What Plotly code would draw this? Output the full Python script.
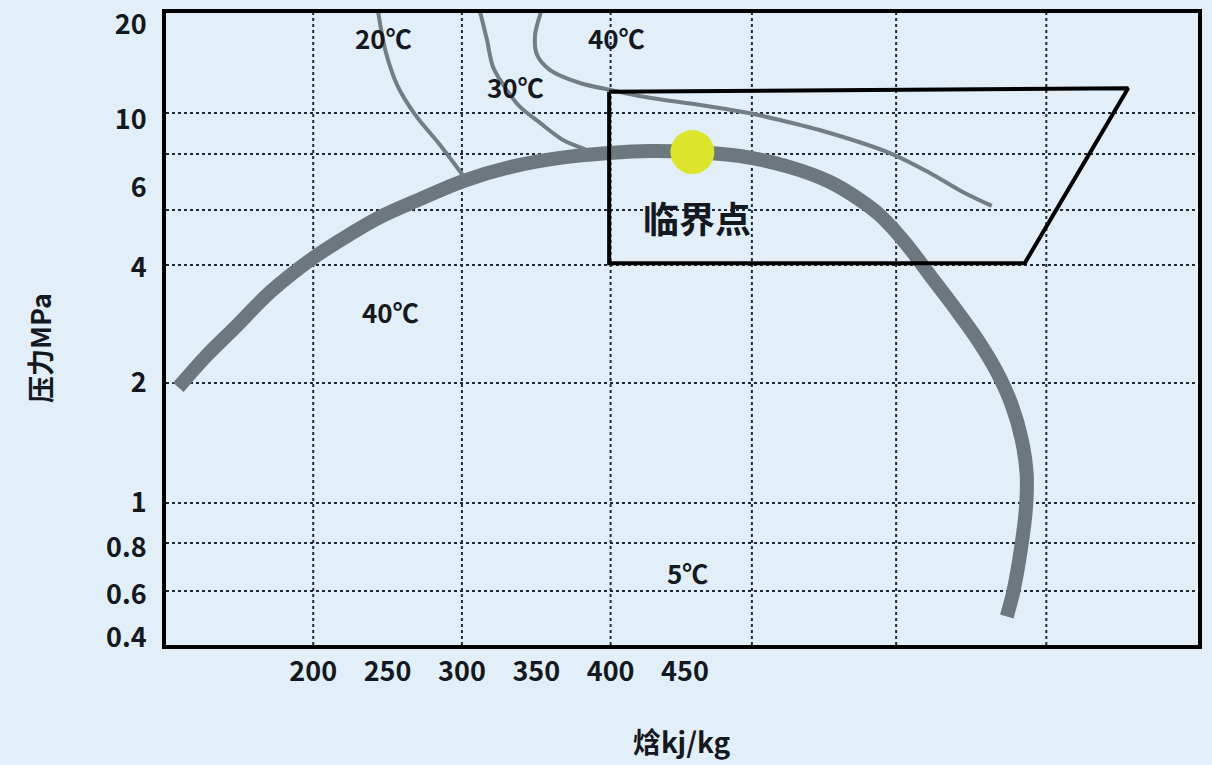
import numpy as np
import plotly.graph_objects as go

# ---------------- data ----------------
# pressure axis of the schematic is non-uniform: tick labels and where they sit on the axis
P_TICKS = [0.4, 0.6, 0.8, 1, 2, 4, 6, 10, 20]
P_TICK_LABELS = ["0.4", "0.6", "0.8", "1", "2", "4", "6", "10", "20"]
P_SCALE = [7, 50, 97, 142, 262, 377, 457, 525, 620]   # scale units of the axis

H_TICKS = [200, 250, 300, 350, 400, 450]

# saturation dome (enthalpy kJ/kg, pressure MPa)
dome_h = [109.3, 127.4, 147.6, 171.1, 200, 224.9, 245, 271.9, 300.8, 332.4, 366, 398.9,
          426.5, 454.7, 487, 520.6, 547.4, 567.6, 581, 597.8, 614.7, 631.5, 646.9, 659.7,
          669.8, 676.5, 679.8, 679.2, 675.8, 671.1, 666.4]
dome_p = [1.95, 2.34, 2.80, 3.46, 4.21, 4.75, 5.18, 5.67, 6.32, 7.02, 7.52, 7.80,
          7.92, 7.86, 7.63, 7.02, 6.28, 5.65, 5.23, 4.56, 3.83, 3.14, 2.59, 2.14,
          1.76, 1.44, 1.18, 0.966, 0.79, 0.62, 0.49]

# isotherms
iso20_h = [243.7, 248.4, 256.5, 268.5, 285.3, 302]
iso20_p = [22, 16.7, 12.9, 10.4, 8.29, 6.47]

iso30_h = [312.2, 316.9, 321, 330.4, 339.1, 352.6, 368, 382.8]
iso30_p = [22, 17.9, 14.7, 12.4, 11.0, 9.78, 8.61, 8.04]

iso40_h = [353.2, 349.2, 350.5, 359.3, 379.4, 401.6, 424.5, 468.8, 493.7, 513.8, 547.4,
           587.8, 614.7, 636.8, 656.3]
iso40_p = [22, 18.6, 16.1, 14.4, 13.1, 12.4, 11.8, 11.0, 10.5, 10.0, 9.07,
           7.80, 6.72, 5.88, 5.48]

# supercritical operating region (closed polygon)
box_h = [399, 748, 678.5, 399, 399]
box_p = [12.3, 12.6, 4.1, 4.1, 12.3]

# critical point
crit_h = [455]
crit_p = [7.86]

# labels
label_text = ["20℃", "40℃", "30℃", "40℃", "5℃"]
label_h = [247, 404, 336, 252, 452]
label_p = [18.2, 18.2, 12.8, 3.07, 0.69]
crit_label = "临界点"
crit_label_h = 458
crit_label_p = 5.18

# ---------------- scale ----------------
LP = np.log(np.array(P_TICKS, dtype=float))
US = np.array(P_SCALE, dtype=float)


def p_to_u(p):
    lp = np.log(np.asarray(p, dtype=float))
    u = np.interp(lp, LP, US)
    hi = lp > LP[-1]
    u[hi] = US[-1] + (lp[hi] - LP[-1]) * (US[-1] - US[-2]) / (LP[-1] - LP[-2])
    lo = lp < LP[0]
    u[lo] = US[0] + (lp[lo] - LP[0]) * (US[1] - US[0]) / (LP[1] - LP[0])
    return u


BG = "#e2eef8"
CURVE = "#6d787e"
INK = "#141820"
FONT = "Noto Sans CJK SC"

fig = go.Figure()

fig.add_trace(go.Scatter(x=dome_h, y=p_to_u(dome_p), mode="lines",
                         line=dict(color=CURVE, width=14, shape="spline", smoothing=1.0),
                         hoverinfo="skip"))
for hh, pp in [(iso20_h, iso20_p), (iso30_h, iso30_p), (iso40_h, iso40_p)]:
    fig.add_trace(go.Scatter(x=hh, y=p_to_u(pp), mode="lines",
                             line=dict(color="#737e84", width=4, shape="spline", smoothing=0.9),
                             hoverinfo="skip"))
fig.add_trace(go.Scatter(x=box_h, y=p_to_u(box_p), mode="lines",
                         line=dict(color="#000000", width=4), hoverinfo="skip"))
fig.add_trace(go.Scatter(x=crit_h, y=p_to_u(crit_p), mode="markers",
                         marker=dict(size=44, color="#dde42c", line=dict(width=0)),
                         hoverinfo="skip"))

# grid (dotted) lines
grid_h = [200, 300, 400, 495, 592, 693]
grid_u = [54, 102, 142, 262, 380, 435, 491, 532]
shapes = []
for g in grid_h:
    shapes.append(dict(type="line", xref="x", yref="paper", x0=g, x1=g, y0=0, y1=1,
                       line=dict(color="#1e2a36", width=2, dash="dot"), layer="below"))
for g in grid_u:
    shapes.append(dict(type="line", xref="paper", yref="y", x0=0, x1=1, y0=g, y1=g,
                       line=dict(color="#1e2a36", width=2, dash="dot"), layer="below"))

annotations = []
lab_u = p_to_u(label_p)
for t, hh, uu in zip(label_text, label_h, lab_u):
    annotations.append(dict(x=hh, y=uu, xref="x", yref="y", text=t, showarrow=False,
                            xanchor="center", yanchor="middle",
                            font=dict(family=FONT, size=26, color=INK, weight="bold")))
annotations.append(dict(x=crit_label_h, y=float(p_to_u([crit_label_p])[0]), xref="x", yref="y",
                        text=crit_label, showarrow=False, xanchor="center", yanchor="middle",
                        font=dict(family=FONT, size=36, color=INK, weight="bold")))
annotations.append(dict(x=-0.122, y=0.47, xref="paper", yref="paper", text="压力MPa",
                        textangle=-90, showarrow=False, xanchor="center", yanchor="middle",
                        font=dict(family=FONT, size=27, color=INK, weight="bold")))
annotations.append(dict(x=0.5, y=-0.152, xref="paper", yref="paper", text="焓kj/kg",
                        showarrow=False, xanchor="center", yanchor="middle",
                        font=dict(family=FONT, size=28, color=INK, weight="bold")))

fig.update_layout(
    width=1212, height=765,
    margin=dict(l=166, r=14, t=13, b=120, autoexpand=False),
    paper_bgcolor=BG, plot_bgcolor=BG,
    showlegend=False,
    shapes=shapes,
    annotations=annotations,
    xaxis=dict(range=[101, 795], tickmode="array", tickvals=H_TICKS,
               ticktext=[str(v) for v in H_TICKS], showgrid=False, zeroline=False,
               showline=True, mirror=True, linecolor="#000000", linewidth=4, ticks="",
               tickfont=dict(family=FONT, size=27, color=INK, weight="bold"),
               ticklabelstandoff=0, automargin=False),
    yaxis=dict(range=[0, 632], tickmode="array", tickvals=P_SCALE, ticktext=P_TICK_LABELS,
               showgrid=False, zeroline=False, showline=True, mirror=True,
               linecolor="#000000", linewidth=4, ticks="",
               tickfont=dict(family=FONT, size=27, color=INK, weight="bold"),
               ticklabelstandoff=10, automargin=False),
)

fig.write_html("out.html", config={"displayModeBar": False},
               post_script="document.body.style.margin='0px';")
